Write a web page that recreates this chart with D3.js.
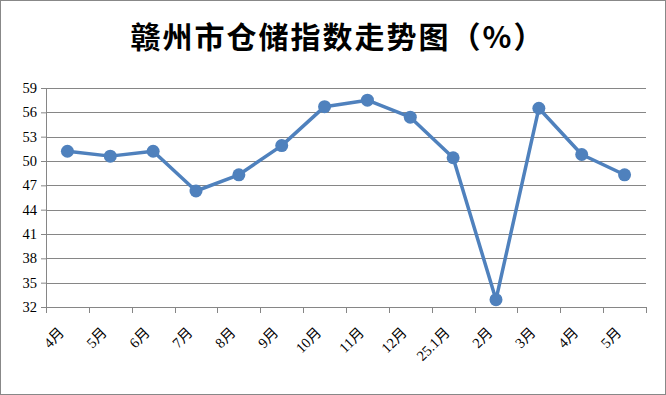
<!DOCTYPE html>
<html>
<head>
<meta charset="utf-8">
<script src="https://cdn.jsdelivr.net/npm/d3@7"></script>
<style>
  body { margin: 0; background: #fff; }
  svg { display: block; }
</style>
</head>
<body>
<svg class="container"></svg>
<script>
// chart data
const months = ['4月', '5月', '6月', '7月', '8月', '9月', '10月', '11月', '12月', '25.1月', '2月', '3月', '4月', '5月'];
const values = [51.2, 50.6, 51.2, 46.3, 48.3, 51.9, 56.7, 57.5, 55.4, 50.4, 32.9, 56.5, 50.8, 48.3];
const yTicks = [32, 35, 38, 41, 44, 47, 50, 53, 56, 59];
const title = '赣州市仓储指数走势图（%）';

const w = 666, h = 395;
const margin = { top: 88, right: 20, bottom: 88, left: 46 };
const innerW = w - margin.left - margin.right,
  innerH = h - margin.top - margin.bottom;

const data = months.map((m, i) => ({ idx: i, label: m, value: values[i] }));

const xScale = d3.scaleBand().domain(data.map(d => d.idx)).range([0, innerW]).padding(0);
const yScale = d3.scaleLinear().domain([32, 59]).range([innerH, 0]);

const svg = d3.select('.container').attr('width', w).attr('height', h);

// outer frame
svg.append('rect')
  .attr('x', 0.5).attr('y', 0.5)
  .attr('width', w - 1).attr('height', h - 1)
  .attr('fill', '#fff')
  .attr('stroke', '#888').attr('stroke-width', 1);

svg.append('text')
  .attr('x', 338).attr('y', 48)
  .attr('text-anchor', 'middle')
  .style('font-family', '"Noto Sans CJK SC", sans-serif')
  .style('font-weight', 'bold')
  .style('font-size', '30px')
  .style('letter-spacing', '2px')
  .attr('fill', '#000')
  .text(title);

const g = svg.append('g').attr('transform', `translate(${margin.left}, ${margin.top})`);

// gridlines
g.selectAll('.grid').data(yTicks.slice(1)).join('line')
  .attr('class', 'grid')
  .attr('x1', 0).attr('x2', innerW)
  .attr('y1', d => Math.round(yScale(d)) + 0.5)
  .attr('y2', d => Math.round(yScale(d)) + 0.5)
  .attr('stroke', '#868686').attr('stroke-width', 1);

// y axis
const yAxis = g.append('g')
  .call(d3.axisLeft(yScale).tickValues(yTicks).tickSize(5).tickPadding(4));
yAxis.select('.domain').attr('stroke', '#868686');
yAxis.selectAll('line').attr('stroke', '#868686');
yAxis.selectAll('text')
  .style('font-family', '"Liberation Serif", serif')
  .style('font-size', '14.5px')
  .attr('fill', '#000');

// x axis (ticks at category boundaries)
const xAxisG = g.append('g').attr('transform', `translate(0, ${innerH})`);
xAxisG.append('line')
  .attr('x1', 0).attr('x2', innerW)
  .attr('y1', 0.5).attr('y2', 0.5)
  .attr('stroke', '#868686');
const bounds = d3.range(months.length + 1);
xAxisG.selectAll('.xtick').data(bounds).join('line')
  .attr('class', 'xtick')
  .attr('x1', d => Math.round(d * xScale.step()) + 0.5)
  .attr('x2', d => Math.round(d * xScale.step()) + 0.5)
  .attr('y1', 0).attr('y2', 6)
  .attr('stroke', '#868686');

xAxisG.selectAll('.xlabel').data(data).join('text')
  .attr('class', 'xlabel')
  .attr('transform', d => `translate(${xScale(d.idx) + xScale.bandwidth() / 2 - 6}, 23) rotate(-45)`)
  .attr('text-anchor', 'end')
  .attr('dy', '0.35em')
  .style('font-family', '"Liberation Serif", "Noto Sans CJK SC", serif')
  .style('font-size', '14.5px')
  .attr('fill', '#000')
  .text(d => d.label);

// line + markers
const lineGen = d3.line()
  .x(d => xScale(d.idx) + xScale.bandwidth() / 2)
  .y(d => yScale(d.value));

g.append('path')
  .datum(data)
  .attr('d', lineGen)
  .attr('fill', 'none')
  .attr('stroke', '#4F81BD')
  .attr('stroke-width', 3.5)
  .attr('stroke-linejoin', 'round');

g.selectAll('.dot').data(data).join('circle')
  .attr('class', 'dot')
  .attr('cx', d => xScale(d.idx) + xScale.bandwidth() / 2)
  .attr('cy', d => yScale(d.value))
  .attr('r', 6.5)
  .attr('fill', '#4F81BD');
</script>
</body>
</html>
